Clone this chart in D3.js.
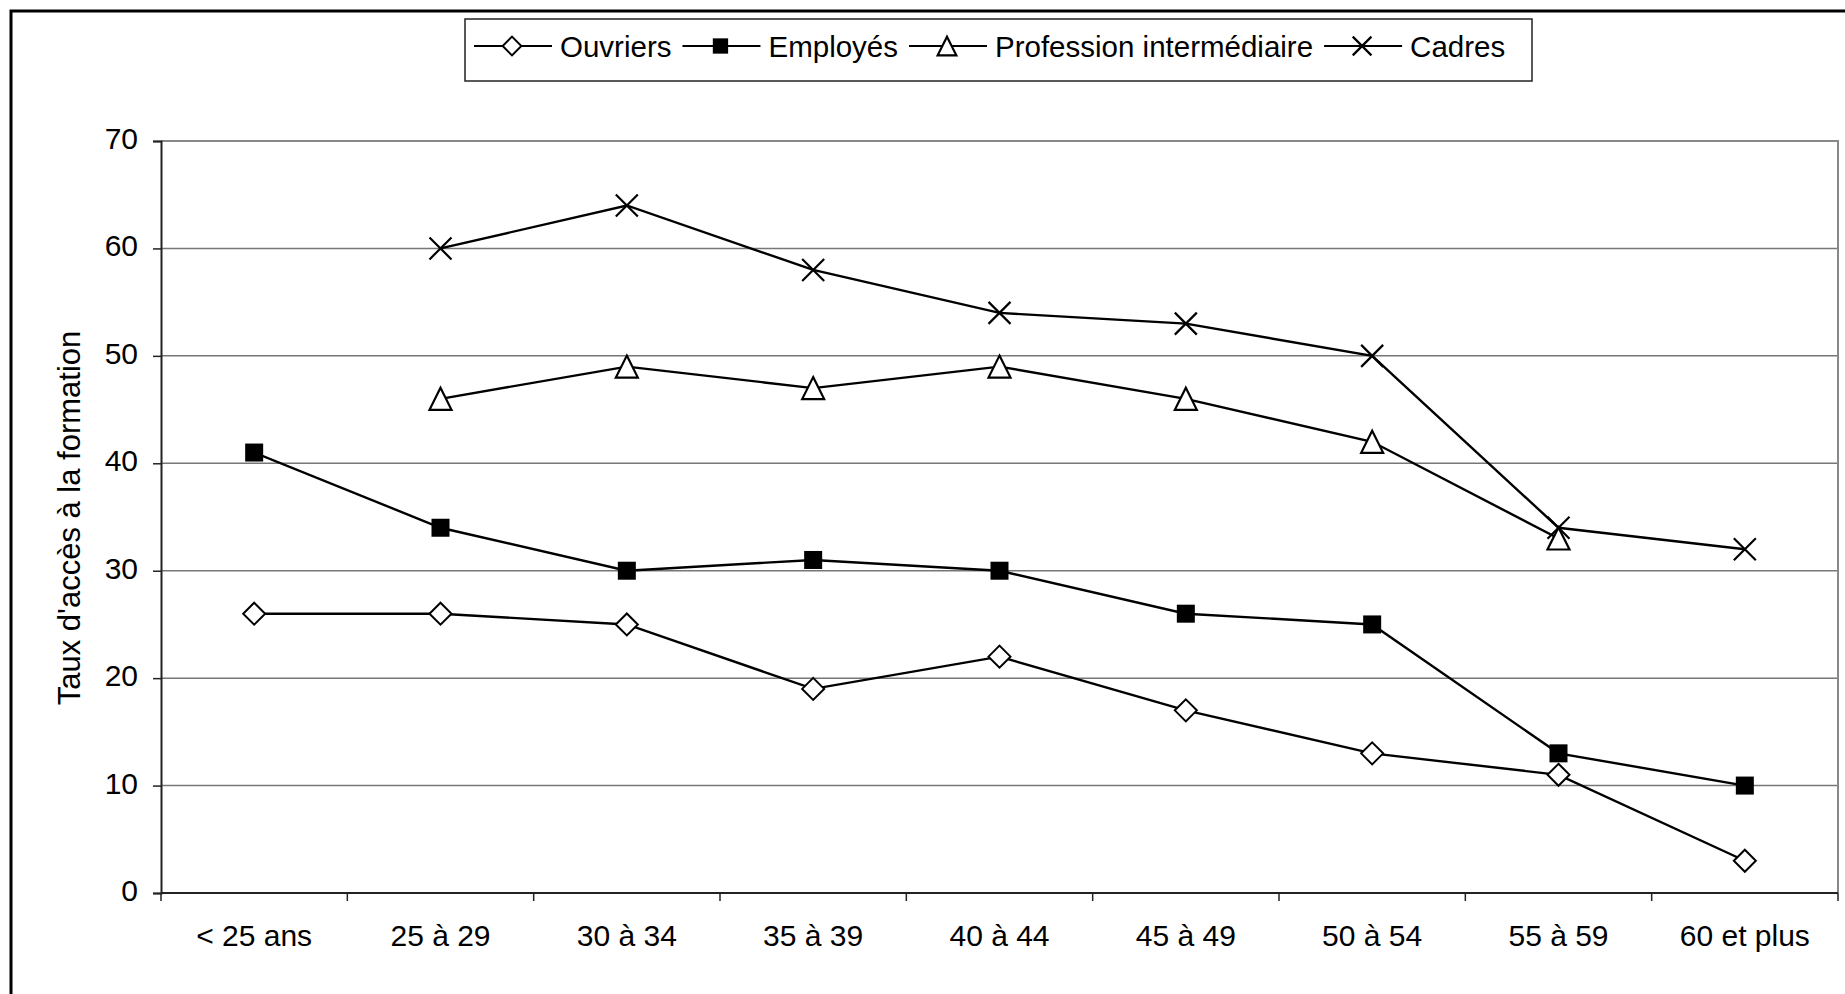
<!DOCTYPE html>
<html>
<head>
<meta charset="utf-8">
<script src="https://cdn.jsdelivr.net/npm/d3@7"></script>
<style>
  body { margin: 0; background: #fff; }
  text { font-family: "Liberation Sans", Arial, sans-serif; fill: #000; }
</style>
</head>
<body>
<svg width="1845" height="994"></svg>
<script>
const width = 1845;
const height = 994;

// Data
const categories = ["< 25 ans", "25 à 29", "30 à 34", "35 à 39", "40 à 44", "45 à 49", "50 à 54", "55 à 59", "60 et plus"];
const ouvriers = [26, 26, 25, 19, 22, 17, 13, 11, 3];
const employes = [41, 34, 30, 31, 30, 26, 25, 13, 10];
const professionInter = [null, 46, 49, 47, 49, 46, 42, 33, null];
const cadres = [null, 60, 64, 58, 54, 53, 50, 34, 32];
const yTicks = [0, 10, 20, 30, 40, 50, 60, 70];

const series = [
  { name: "Ouvriers", values: ouvriers, marker: "diamond" },
  { name: "Employés", values: employes, marker: "square" },
  { name: "Profession intermédiaire", values: professionInter, marker: "triangle" },
  { name: "Cadres", values: cadres, marker: "cross" }
];

const margin = { left: 161, right: 1838, top: 141, bottom: 893 };
const fontSize = "30px";

const svg = d3.select("svg");

svg.append("rect")
  .attr("width", width).attr("height", height)
  .attr("fill", "#fff");

// outer frame (cut off at right and bottom)
svg.append("path")
  .attr("d", `M11,${height} L11,11 L${width},11`)
  .attr("fill", "none")
  .attr("stroke", "#000")
  .attr("stroke-width", 3);

const x = d3.scaleBand()
  .domain(categories)
  .range([margin.left, margin.right])
  .padding(0);

const y = d3.scaleLinear()
  .domain([0, 70])
  .range([margin.bottom, margin.top]);

// gridlines
svg.append("g")
  .selectAll("line")
  .data(yTicks.filter(d => d > 0))
  .enter().append("line")
  .attr("x1", margin.left)
  .attr("x2", margin.right)
  .attr("y1", d => y(d))
  .attr("y2", d => y(d))
  .attr("stroke", "#777")
  .attr("stroke-width", 1.5);

// plot border top / right
svg.append("path")
  .attr("d", `M${margin.left},${margin.top} L${margin.right},${margin.top} L${margin.right},${margin.bottom}`)
  .attr("fill", "none")
  .attr("stroke", "#888")
  .attr("stroke-width", 2);

// y axis
const yAxis = svg.append("g")
  .attr("transform", `translate(${margin.left},0)`)
  .call(d3.axisLeft(y).tickValues(yTicks).tickSize(8).tickPadding(15));
yAxis.select(".domain").attr("stroke", "#222").attr("stroke-width", 2);
yAxis.selectAll(".tick line").attr("stroke", "#222").attr("stroke-width", 1.5);
yAxis.selectAll(".tick text")
  .style("font-size", fontSize)
  .attr("dy", "0.25em")
  .attr("fill", "#000");

// x axis: ticks at category boundaries
const xAxis = svg.append("g")
  .attr("transform", `translate(0,${margin.bottom})`);
xAxis.append("line")
  .attr("x1", margin.left).attr("x2", margin.right)
  .attr("stroke", "#222").attr("stroke-width", 2);
xAxis.selectAll("line.tick")
  .data(categories.concat(["end"]))
  .enter().append("line")
  .attr("class", "tick")
  .attr("x1", (d, i) => margin.left + i * x.bandwidth())
  .attr("x2", (d, i) => margin.left + i * x.bandwidth())
  .attr("y1", 0).attr("y2", 8)
  .attr("stroke", "#222").attr("stroke-width", 1.5);
xAxis.selectAll("text")
  .data(categories)
  .enter().append("text")
  .attr("x", d => x(d) + x.bandwidth() / 2)
  .attr("y", 53)
  .attr("text-anchor", "middle")
  .style("font-size", fontSize)
  .text(d => d);

// y axis title
svg.append("text")
  .attr("transform", "translate(80,518) rotate(-90)")
  .attr("text-anchor", "middle")
  .style("font-size", "31px")
  .text("Taux d'accès à la formation");

// marker drawing
function drawMarker(g, type, s) {
  if (type === "diamond") {
    g.append("path")
      .attr("d", `M0,${-11 * s} L${11 * s},0 L0,${11 * s} L${-11 * s},0 Z`)
      .attr("fill", "#fff").attr("stroke", "#000").attr("stroke-width", 2);
  } else if (type === "square") {
    g.append("rect")
      .attr("x", -9 * s).attr("y", -9 * s)
      .attr("width", 18 * s).attr("height", 18 * s)
      .attr("fill", "#000");
  } else if (type === "triangle") {
    g.append("path")
      .attr("d", `M0,${-11 * s} L${11 * s},${11 * s} L${-11 * s},${11 * s} Z`)
      .attr("fill", "#fff").attr("stroke", "#000").attr("stroke-width", 2.2);
  } else {
    g.append("path")
      .attr("d", `M${-11 * s},${-11 * s} L${11 * s},${11 * s} M${-11 * s},${11 * s} L${11 * s},${-11 * s}`)
      .attr("stroke", "#000").attr("stroke-width", 2.2);
  }
}

const line = d3.line()
  .defined(d => d.v !== null)
  .x(d => x(d.c) + x.bandwidth() / 2)
  .y(d => y(d.v));

series.forEach(s => {
  const pts = categories.map((c, i) => ({ c: c, v: s.values[i] }));
  svg.append("path")
    .datum(pts)
    .attr("d", line)
    .attr("fill", "none")
    .attr("stroke", "#000")
    .attr("stroke-width", 2.4);
});

series.forEach(s => {
  const pts = categories.map((c, i) => ({ c: c, v: s.values[i] })).filter(d => d.v !== null);
  svg.append("g").selectAll("g")
    .data(pts)
    .enter().append("g")
    .attr("transform", d => `translate(${x(d.c) + x.bandwidth() / 2},${y(d.v)})`)
    .each(function () { drawMarker(d3.select(this), s.marker, 1); });
});

// legend
const legend = svg.append("g");
legend.append("rect")
  .attr("x", 465).attr("y", 19)
  .attr("width", 1067).attr("height", 62)
  .attr("fill", "#fff")
  .attr("stroke", "#222")
  .attr("stroke-width", 1.5);

let lx = 474;
const ly = 46;
series.forEach(s => {
  const item = legend.append("g");
  item.append("line")
    .attr("x1", lx).attr("x2", lx + 78)
    .attr("y1", ly).attr("y2", ly)
    .attr("stroke", "#000").attr("stroke-width", 2);
  drawMarker(item.append("g").attr("transform", `translate(${lx + 38},${ly})`), s.marker, 0.85);
  const t = item.append("text")
    .attr("x", lx + 86)
    .attr("y", ly + 10.5)
    .style("font-size", "29.5px")
    .text(s.name);
  lx = lx + 86 + t.node().getComputedTextLength() + 11;
});
</script>
</body>
</html>
